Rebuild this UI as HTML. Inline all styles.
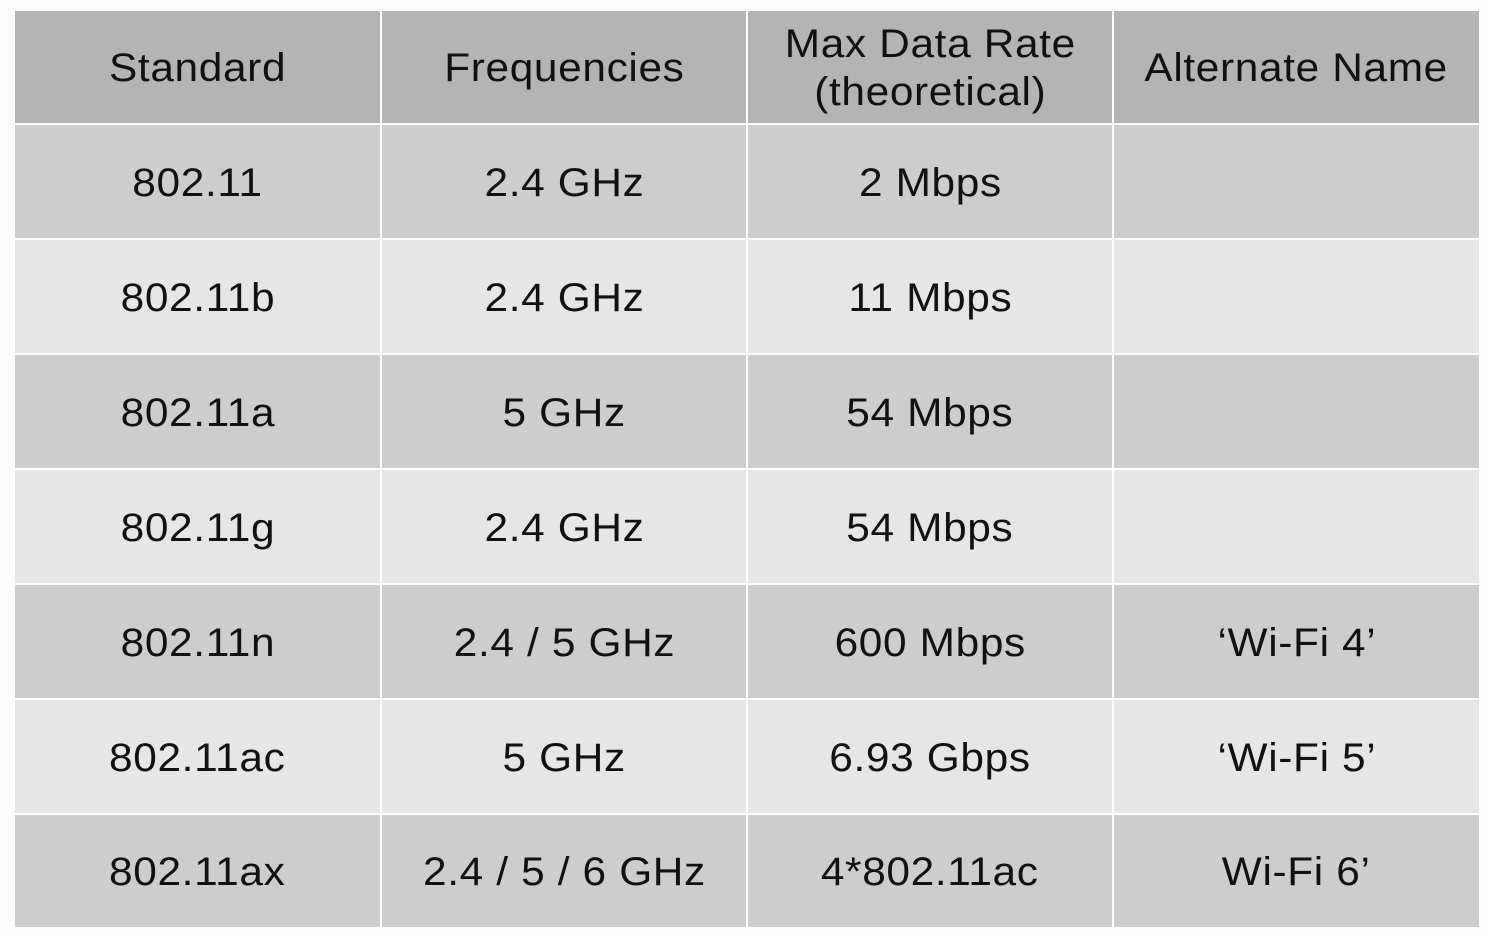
<!DOCTYPE html>
<html><head><meta charset="utf-8"><style>
body{margin:0;width:1490px;height:938px;background:#fdfdfd;position:relative;overflow:hidden;font-family:"Liberation Sans",sans-serif;color:#111}
.c{position:absolute;display:flex;align-items:center;justify-content:center;text-align:center;font-size:40px;line-height:48px;letter-spacing:0.6px;padding-top:2px;box-sizing:border-box}
.c span{display:inline-block;transform:scaleX(1.06)}
</style></head><body>
<div id="t"></div>
<script>
const cols=[15,382,748,1114,1479];
const rows=[11,125,240,355,470,585,700,815,929];
const data=[["Standard","Frequencies","Max Data Rate<br>(theoretical)","Alternate Name"],
["802.11","2.4 GHz","2 Mbps",""],
["802.11b","2.4 GHz","11 Mbps",""],
["802.11a","5 GHz","54 Mbps",""],
["802.11g","2.4 GHz","54 Mbps",""],
["802.11n","2.4 / 5 GHz","600 Mbps","‘Wi-Fi 4’"],
["802.11ac","5 GHz","6.93 Gbps","‘Wi-Fi 5’"],
["802.11ax","2.4 / 5 / 6 GHz","4*802.11ac","Wi-Fi 6’"]];
let h="";
for(let r=0;r<8;r++){const bg=r==0?"#b4b4b4":(r%2?"#cdcdcd":"#e6e6e6");
for(let c=0;c<4;c++){const x=cols[c],w=cols[c+1]-x-(c<3?2:0),y=rows[r],hh=rows[r+1]-y-2;
h+=`<div class="c" style="left:${x}px;top:${y}px;width:${w}px;height:${hh}px;background:${bg}"><span>${data[r][c]}</span></div>`;}}
document.getElementById("t").innerHTML=h;
</script>
</body></html>
